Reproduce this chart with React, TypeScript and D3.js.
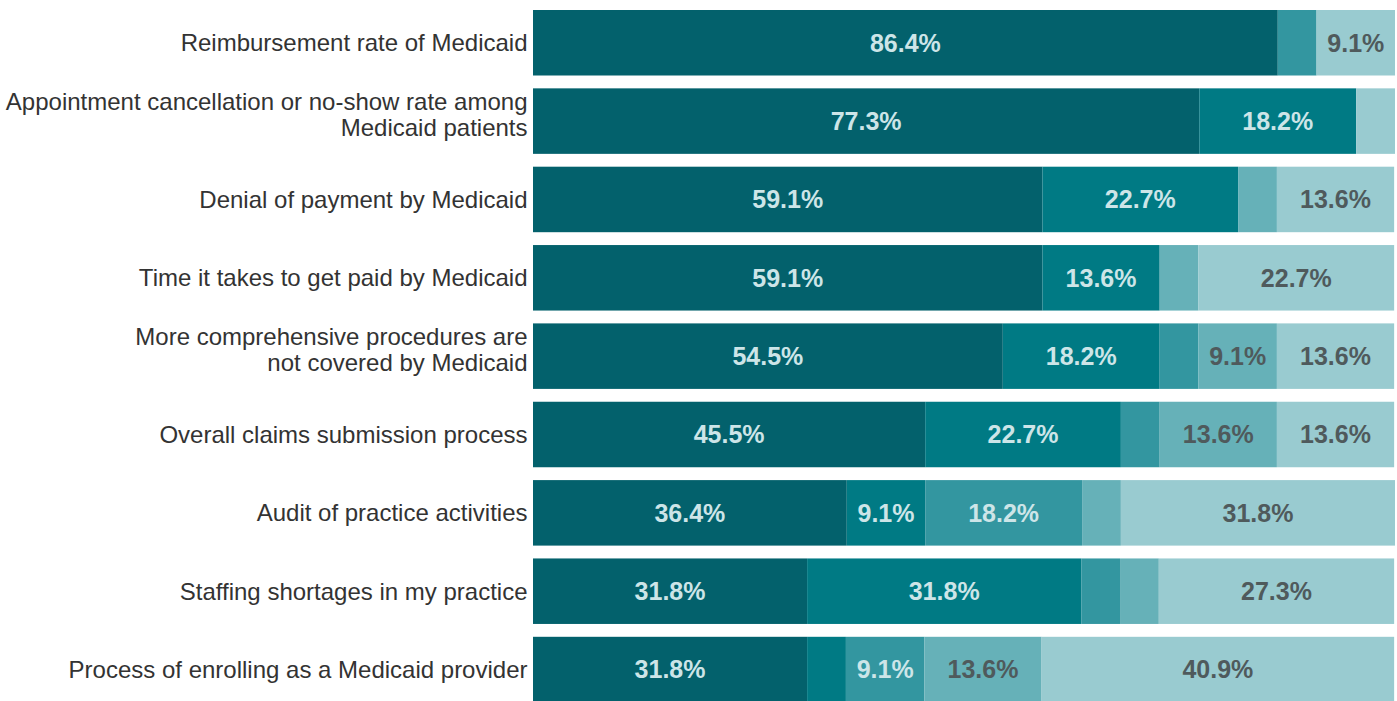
import React, { useRef, useEffect } from 'react';
import * as d3 from 'd3';

// categories, top to bottom (labels split into lines)
const categories = [
  ['Reimbursement rate of Medicaid'],
  ['Appointment cancellation or no-show rate among', 'Medicaid patients'],
  ['Denial of payment by Medicaid'],
  ['Time it takes to get paid by Medicaid'],
  ['More comprehensive procedures are', 'not covered by Medicaid'],
  ['Overall claims submission process'],
  ['Audit of practice activities'],
  ['Staffing shortages in my practice'],
  ['Process of enrolling as a Medicaid provider'],
];

// share of respondents per response level (darkest to lightest)
const level1 = [86.4, 77.3, 59.1, 59.1, 54.5, 45.5, 36.4, 31.8, 31.8];
const level2 = [0, 18.2, 22.7, 13.6, 18.2, 22.7, 9.1, 31.8, 4.5];
const level3 = [4.5, 0, 0, 0, 4.5, 4.5, 18.2, 4.5, 9.1];
const level4 = [0, 0, 4.5, 4.5, 9.1, 13.6, 4.5, 4.5, 13.6];
const level5 = [9.1, 4.5, 13.6, 22.7, 13.6, 13.6, 31.8, 27.3, 40.9];

const colors = ['#03616c', '#007a84', '#3396a0', '#66b1b8', '#99cbd0'];
const labelColors = ['#cde5e8', '#cde5e8', '#cde5e8', '#4f5a5c', '#4f5a5c'];

const App = () => {
  const svgRef = useRef(null);

  useEffect(() => {
    if (!svgRef.current) return;
    const width = 1397;
    const height = 701;

    d3.select(svgRef.current).selectAll('*').remove();
    const svg = d3.select(svgRef.current)
      .attr('width', width)
      .attr('height', height);

    const series = [level1, level2, level3, level4, level5];
    const rows = categories.map((c, i) => {
      const r = { key: i };
      series.forEach((s, j) => { r['s' + j] = s[i]; });
      return r;
    });
    const keys = series.map((_, j) => 's' + j);
    const stacked = d3.stack().keys(keys)(rows);

    const x = d3.scaleLinear().domain([0, 100]).range([533, 1395]);
    const y = d3.scaleBand()
      .domain(d3.range(categories.length))
      .range([10, 702.3])
      .paddingInner(0.164)
      .paddingOuter(0);

    // bars
    stacked.forEach((layer, j) => {
      const g = svg.append('g');
      g.selectAll('rect')
        .data(layer)
        .enter()
        .append('rect')
        .attr('x', d => x(d[0]))
        .attr('y', (d, i) => y(i))
        .attr('width', d => Math.max(0, x(d[1]) - x(d[0])))
        .attr('height', y.bandwidth())
        .attr('fill', colors[j]);

      // value labels (hidden for tiny segments)
      g.selectAll('text')
        .data(layer.filter(d => d[1] - d[0] > 5))
        .enter()
        .append('text')
        .attr('x', d => (x(d[0]) + x(d[1])) / 2)
        .attr('y', d => y(d.data.key) + y.bandwidth() / 2)
        .attr('dy', '0.35em')
        .attr('text-anchor', 'middle')
        .style('font-family', '"Liberation Sans", Arial, sans-serif')
        .style('font-size', '25px')
        .style('font-weight', 'bold')
        .attr('fill', labelColors[j])
        .text(d => (d[1] - d[0]).toFixed(1) + '%');
    });

    // category labels (two-line ones sit a little above centre)
    const lineH = 25.5;
    categories.forEach((lines, i) => {
      const cy = y(i) + y.bandwidth() / 2 - (lines.length > 1 ? 6.5 : 0);
      const t = svg.append('text')
        .attr('text-anchor', 'end')
        .style('font-family', '"Liberation Sans", Arial, sans-serif')
        .style('font-size', '24px')
        .attr('fill', '#333333');
      lines.forEach((l, k) => {
        t.append('tspan')
          .attr('x', 527.5)
          .attr('y', cy + (k - (lines.length - 1) / 2) * lineH)
          .attr('dy', '0.35em')
          .text(l);
      });
    });
  }, []);

  return (
    <svg
      ref={svgRef}
      style={{ position: 'absolute', left: 0, top: 0, display: 'block', background: '#fff' }}
    />
  );
};

export default App;
